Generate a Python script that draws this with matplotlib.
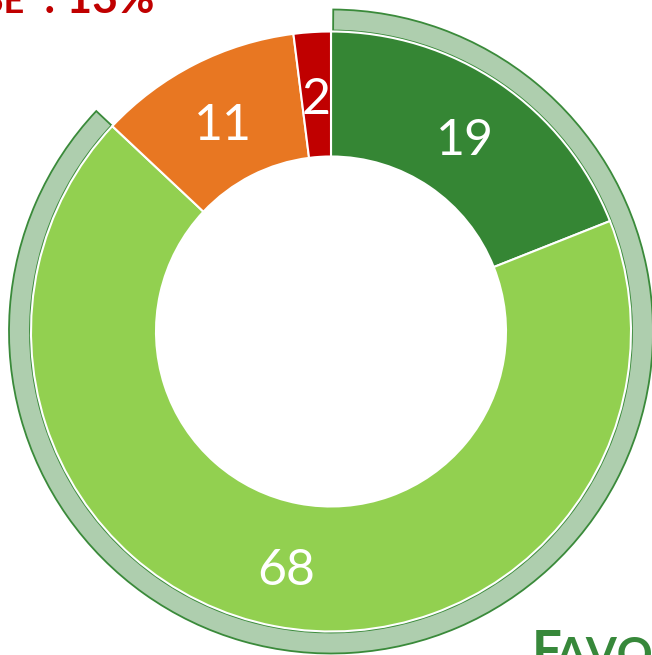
import numpy as np
import matplotlib.pyplot as plt
from matplotlib.patches import Wedge

# Donut data (clockwise from top)
values = [19, 68, 11, 2]
colors = ['#358634', '#92D050', '#E87722', '#C00000']
favorable_share = 19 + 68
adverse_share = 11 + 2

plt.rcParams['font.family'] = ['Lato', 'DejaVu Sans']

fig = plt.figure(figsize=(6.52, 6.55), dpi=100)
ax = fig.add_axes([0, 0, 1, 1])

cx, cy = 331, 655 - 331.5
r_out, r_in = 300, 175

# outer ring marking the favorable part
start = 90 - favorable_share / 100 * 360
ring = Wedge((cx, cy), 322, start, 89.6, width=21,
             facecolor='#AECEAE', edgecolor='#3A8A3A', linewidth=1.3)
ax.add_patch(ring)

wedges, _ = ax.pie(values, colors=colors, startangle=90, counterclock=False,
                   radius=r_out, center=(cx, cy), frame=True,
                   wedgeprops=dict(width=r_out - r_in, edgecolor='white', linewidth=1.5))

# value labels in the middle of the ring
cum = np.cumsum([0] + values)
r_lab = (r_out + r_in) / 2
for i, v in enumerate(values):
    mid = 90 - (cum[i] + v / 2) / sum(values) * 360
    x = cx + r_lab * np.cos(np.radians(mid))
    y = cy + r_lab * np.sin(np.radians(mid)) - 6
    ax.text(x, y, str(v), color='white', fontsize=36, ha='center', va='center')

# top-left caption (clipped in the original)
ax.text(24, 642, 'ADVERSE', color='#C00000', fontsize=26, fontweight='bold',
        ha='right', va='baseline')
ax.text(155, 642, ': %d%%' % adverse_share, color='#C00000', fontsize=32,
        fontweight='bold', ha='right', va='baseline')

# bottom-right caption
ax.text(532, -14, 'F', color='#37883A', fontsize=38, fontweight='bold',
        ha='left', va='baseline')
ax.text(555, -14, 'AVORABLE : %d%%' % favorable_share, color='#37883A',
        fontsize=32, fontweight='bold', ha='left', va='baseline')

ax.set_xlim(0, 652)
ax.set_ylim(0, 655)
ax.set_aspect('auto')
ax.axis('off')

plt.savefig('out.png', dpi=100)
